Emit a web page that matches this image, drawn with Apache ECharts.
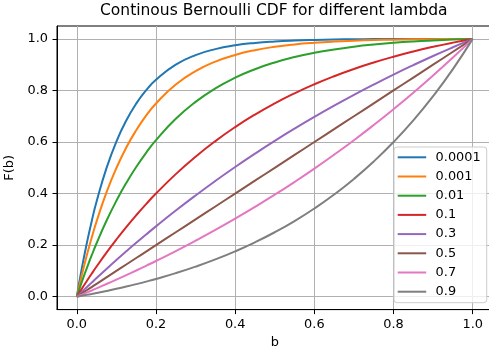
<!DOCTYPE html>
<html>
<head>
<meta charset="utf-8">
<script src="https://cdn.jsdelivr.net/npm/echarts@6/dist/echarts.min.js"></script>
<style>
  html, body { margin: 0; padding: 0; background: #fff; }
  #chart { width: 489px; height: 350px; }
</style>
</head>
<body>
<div id="chart"></div>
<script>
var bValues = [0, 0.0125, 0.025, 0.0375, 0.05, 0.075, 0.1, 0.125, 0.15, 0.175, 0.2, 0.25, 0.3, 0.35, 0.4, 0.45, 0.5, 0.55, 0.6, 0.65, 0.7, 0.75, 0.8, 0.85, 0.9, 0.95, 1.0]

var lambdaNames = ['0.0001', '0.001', '0.01', '0.1', '0.3', '0.5', '0.7', '0.9']

var cdf00001 = [0, 0.1088, 0.2057, 0.2921, 0.3690, 0.4988, 0.6019, 0.6838, 0.7489, 0.8006, 0.8416, 0.9001, 0.9370, 0.9603, 0.9750, 0.9843, 0.9901, 0.9938, 0.9961, 0.9976, 0.9985, 0.9991, 0.9995, 0.9997, 0.9999, 0.9999, 1.0]
var cdf0001 = [0, 0.0828, 0.1588, 0.2284, 0.2923, 0.4047, 0.4993, 0.5789, 0.6457, 0.7021, 0.7495, 0.8229, 0.8750, 0.9118, 0.9378, 0.9563, 0.9693, 0.9786, 0.9851, 0.9898, 0.9930, 0.9954, 0.9970, 0.9982, 0.9990, 0.9996, 1.0]
var cdf001 = [0, 0.0564, 0.1096, 0.1599, 0.2074, 0.2945, 0.3722, 0.4414, 0.5031, 0.5582, 0.6072, 0.6900, 0.7556, 0.8080, 0.8495, 0.8824, 0.9087, 0.9295, 0.9461, 0.9592, 0.9697, 0.9780, 0.9846, 0.9899, 0.9940, 0.9974, 1.0]
var cdf01 = [0, 0.0305, 0.0601, 0.0890, 0.1170, 0.1709, 0.2219, 0.2702, 0.3159, 0.3591, 0.4001, 0.4755, 0.5431, 0.6036, 0.6579, 0.7065, 0.7500, 0.7890, 0.8240, 0.8553, 0.8834, 0.9085, 0.9310, 0.9512, 0.9693, 0.9855, 1.0]
var cdf03 = [0, 0.0184, 0.0367, 0.0547, 0.0726, 0.1077, 0.1422, 0.1759, 0.2089, 0.2412, 0.2728, 0.3341, 0.3928, 0.4491, 0.5031, 0.5548, 0.6044, 0.6519, 0.6974, 0.7411, 0.7829, 0.8230, 0.8615, 0.8983, 0.9337, 0.9675, 1.0]
var cdf05 = [0, 0.0125, 0.025, 0.0375, 0.05, 0.075, 0.1, 0.125, 0.15, 0.175, 0.2, 0.25, 0.3, 0.35, 0.4, 0.45, 0.5, 0.55, 0.6, 0.65, 0.7, 0.75, 0.8, 0.85, 0.9, 0.95, 1.0]
var cdf07 = [0, 0.0080, 0.0161, 0.0242, 0.0325, 0.0492, 0.0663, 0.0838, 0.1016, 0.1199, 0.1385, 0.1769, 0.2171, 0.2589, 0.3026, 0.3481, 0.3956, 0.4452, 0.4969, 0.5509, 0.6071, 0.6659, 0.7272, 0.7911, 0.8578, 0.9274, 1.0]
var cdf09 = [0, 0.0035, 0.0071, 0.0107, 0.0145, 0.0224, 0.0307, 0.0395, 0.0488, 0.0586, 0.0690, 0.0915, 0.1167, 0.1447, 0.1760, 0.2110, 0.2500, 0.2935, 0.3422, 0.3964, 0.4569, 0.5245, 0.5999, 0.6841, 0.7781, 0.8829, 1.0]

var allCdfs = [cdf00001, cdf0001, cdf001, cdf01, cdf03, cdf05, cdf07, cdf09]

var tickValues = [0, 0.2, 0.4, 0.6, 0.8, 1.0]

var colors = ['#1f77b4', '#ff7f0e', '#2ca02c', '#d62728', '#9467bd', '#8c564b', '#e377c2', '#7f7f7f']

var font = 'DejaVu Sans'
var fs = 12.9

var mychart = echarts.init(document.getElementById('chart'), null, { renderer: 'canvas' })

const makeAxis = (name, gap, rotate) => ({
    type: 'value',
    min: -0.05,
    max: 1.05,
    name: name,
    nameLocation: 'middle',
    nameGap: gap,
    nameRotate: rotate,
    nameTextStyle: { fontFamily: font, fontSize: fs, color: '#000' },
    axisLine: { show: true, onZero: false, lineStyle: { color: '#000', width: 1 } },
    axisTick: { show: true, length: 4.5, customValues: tickValues, lineStyle: { color: '#000', width: 1 } },
    axisLabel: {
        customValues: tickValues,
        margin: 9,
        fontFamily: font,
        fontSize: fs,
        color: '#000',
        formatter: v => v.toFixed(1)
    },
    splitLine: { show: true, lineStyle: { color: '#b0b0b0', width: 1 } }
})

var series = lambdaNames.map((n, i) => ({
    name: n,
    type: 'line',
    showSymbol: false,
    smooth: true,
    color: colors[i],
    lineStyle: { width: 2, color: colors[i] },
    data: bValues.map((b, j) => [b, allCdfs[i][j]])
}))

let option = {
    animation: false,
    backgroundColor: '#fff',
    title: {
        text: 'Continous Bernoulli CDF for different lambda',
        left: 100,
        top: 3,
        padding: 0,
        textStyle: { fontFamily: font, fontSize: 15.5, fontWeight: 'normal', color: '#000' }
    },
    grid: {
        left: 57,
        top: 26,
        width: 435.5,
        height: 283.6,
        outerBoundsMode: 'none',
        containLabel: false,
        show: true,
        borderColor: '#000',
        borderWidth: 1,
        backgroundColor: 'transparent'
    },
    xAxis: makeAxis('b', 26, 0),
    yAxis: makeAxis('F(b)', 34, 90),
    legend: {
        orient: 'vertical',
        left: 394,
        top: 147,
        padding: [2.3, 6, 3, 3.7],
        itemGap: 3.2,
        itemWidth: 28.5,
        itemHeight: 2,
        icon: 'rect',
        backgroundColor: 'rgba(255,255,255,0.8)',
        borderColor: '#cccccc',
        borderWidth: 1,
        borderRadius: 3,
        textStyle: { fontFamily: font, fontSize: fs, color: '#000', lineHeight: 16, padding: [0, 0, 0, 4.4] },
        data: lambdaNames
    },
    series: series
};
mychart.setOption(option)
</script>
</body>
</html>
